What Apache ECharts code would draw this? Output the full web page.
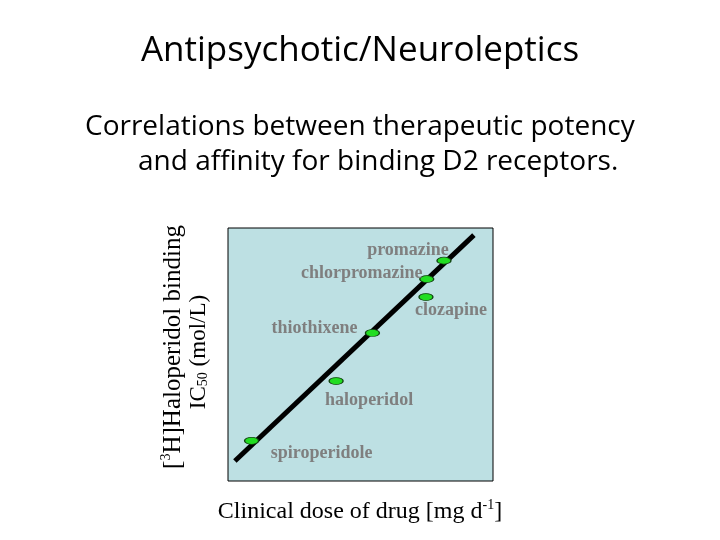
<!DOCTYPE html>
<html><head><meta charset="utf-8">
<script src="https://cdn.jsdelivr.net/npm/echarts@6/dist/echarts.min.js"></script>
<style>html,body{margin:0;padding:0;background:#fff}#c{width:720px;height:540px}</style>
</head><body><div id="c"></div>
<script>
// Drug names and positions (arbitrary log-like units 0-100)
const drugs = ['promazine','chlorpromazine','clozapine','thiothixene','haloperidol','spiroperidole'];
const doseX = [81.5, 75.0, 74.7, 54.5, 40.8, 8.9];
const bindingY = [87.1, 79.8, 72.7, 58.5, 39.5, 15.9];
// regression line endpoints
const fitX = [2.6, 92.8];
const fitY = [7.9, 97.2];

const labelOffsets = {
  promazine: [-36, -10],
  chlorpromazine: [-65, -6],
  clozapine: [25, 13],
  thiothixene: [-58, -5],
  haloperidol: [33, 19],
  spiroperidole: [70, 13]
};

const chart = echarts.init(document.getElementById('c'));
const pts = drugs.map((d, i) => ({
  name: d,
  value: [doseX[i], bindingY[i]],
  label: { show: true, formatter: d, position: 'inside', offset: labelOffsets[d] }
}));

chart.setOption({
  animation: false,
  backgroundColor: '#ffffff',
  grid: { left: 228, top: 228, width: 265, height: 253, show: true,
          backgroundColor: '#bde0e3', borderColor: '#000', borderWidth: 1 },
  xAxis: { type: 'value', min: 0, max: 100, show: false },
  yAxis: { type: 'value', min: 0, max: 100, show: false },
  graphic: [
    { type: 'text', x: 360, y: 51,
      style: { text: 'Antipsychotic/Neuroleptics', align: 'center', verticalAlign: 'middle', font: '35px "Open Sans", Lato, sans-serif', fill: '#000' } },
    { type: 'text', x: 85, y: 127,
      style: { text: 'Correlations between therapeutic potency', verticalAlign: 'middle', font: '28px "Open Sans", Lato, sans-serif', fill: '#000' } },
    { type: 'text', x: 138, y: 162,
      style: { text: 'and affinity for binding D2 receptors.', verticalAlign: 'middle', font: '28px "Open Sans", Lato, sans-serif', fill: '#000' } },
    { type: 'text', x: 173, y: 347, rotation: Math.PI / 2,
      style: { text: '[{s|3}H]Haloperidol binding', align: 'center', verticalAlign: 'middle',
        font: '25px "Liberation Serif", serif', fill: '#000',
        rich: { s: { fontSize: 14, fontFamily: '"Liberation Serif", serif', verticalAlign: 'top', lineHeight: 27 } } } },
    { type: 'text', x: 199, y: 352, rotation: Math.PI / 2,
      style: { text: 'IC{s|50} (mol/L)', align: 'center', verticalAlign: 'middle',
        font: '23px "Liberation Serif", serif', fill: '#000',
        rich: { s: { fontSize: 14, fontFamily: '"Liberation Serif", serif', verticalAlign: 'bottom', lineHeight: 16, padding: [9, 0, 0, 0] } } } },
    { type: 'text', x: 360, y: 512,
      style: { text: 'Clinical dose of drug [mg d{s|-1}]', align: 'center', verticalAlign: 'middle',
        font: '24px "Liberation Serif", serif', fill: '#000',
        rich: { s: { fontSize: 14, fontFamily: '"Liberation Serif", serif', verticalAlign: 'top', lineHeight: 28 } } } }
  ],
  series: [
    { type: 'line', data: fitX.map((x, i) => [x, fitY[i]]), symbol: 'none',
      lineStyle: { color: '#000', width: 5 }, z: 2, silent: true },
    { type: 'scatter', data: pts, symbol: 'circle', symbolSize: [14, 7], z: 3,
      itemStyle: { color: '#22dd22', borderColor: '#114411', borderWidth: 1, opacity: 1 },
      label: { color: '#7f7f7f', fontFamily: '"Liberation Serif", serif', fontWeight: 'bold', fontSize: 18 } }
  ]
});
</script></body></html>
